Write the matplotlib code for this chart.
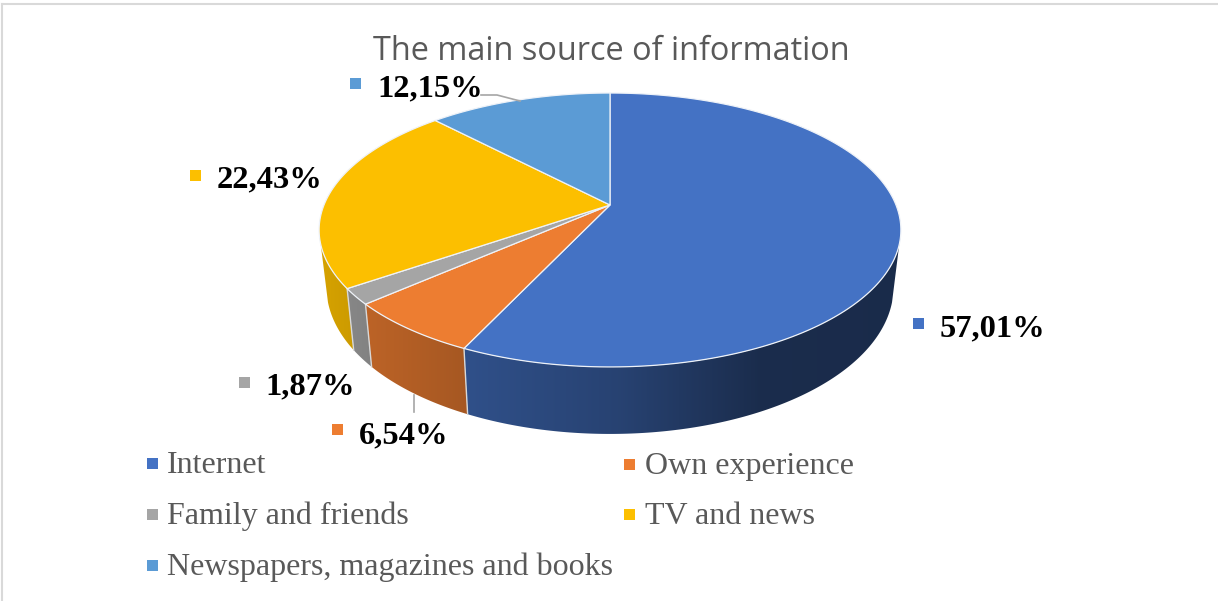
import numpy as np
import matplotlib
matplotlib.use("Agg")
import matplotlib.pyplot as plt
from matplotlib.patches import Polygon

# ---------------- DATA ----------------

categories = ["Internet", "Own experience", "Family and friends", "TV and news",
              "Newspapers, magazines and books"]
shares = [57.01, 6.54, 1.87, 22.43, 12.15]
colors = ["#4472C4", "#ED7D31", "#A5A5A5", "#FCBF00", "#5B9BD5"]

# ---------------- LAYOUT (pixels) ----------------

title = "The main source of information"
label_text_xy = [(940, 336), (359, 443), (265, 394), (217, 187), (377, 96)]
label_marker_xy = [(918, 323), (337, 429), (244, 382), (195, 175), (355, 83)]
legend_marker_xy = [(152, 463), (629, 464), (152, 514), (629, 514), (152, 565)]
legend_text_x = [167, 645, 167, 645, 167]
legend_text_y = [473, 474, 524, 524, 575]

# perspective of the pie
cx, cy = 610, 205
A, B, K = 286, 132.4, 0.1824


def top_point(deg):
    t = np.radians(deg)
    u, v = np.sin(t), np.cos(t)
    d = 1 + K * v
    return cx + A * u / d, cy - B * v / d


def bottom_point(deg):
    x, y = top_point(deg)
    v = np.cos(np.radians(deg))
    return cx + 0.975 * (x - cx), y + 54.3 - 12.7 * v


def side_shade(x):
    return np.interp(x, [320, 370, 467, 620, 760, 900],
                     [0.85, 0.79, 0.70, 0.58, 0.39, 0.38])


fig = plt.figure(figsize=(12.18, 6.01), dpi=100)
ax = fig.add_axes([0, 0, 1, 1])
ax.axis("off")

# frame of the picture
ax.plot([1.5, 1.5], [4, 601], color="#D9D9D9", lw=1.5)
ax.plot([1.5, 1218], [4, 4], color="#D9D9D9", lw=1.5)

edges = np.concatenate([[0], np.cumsum(shares)]) / sum(shares) * 360

# ---------------- SIDE WALL ----------------

# gradient image per slice, clipped to the wall outline
xs = np.arange(300, 920)
for i, col in enumerate(colors):
    a = np.linspace(edges[i], edges[i + 1], 300)
    a = a[np.cos(np.radians(a)) < -0.28]
    if len(a) == 0:
        continue
    outline = [top_point(d) for d in a] + [bottom_point(d) for d in a[::-1]]
    rgb = np.array(matplotlib.colors.to_rgb(col))
    grad = np.outer(side_shade(xs), rgb)[np.newaxis, :, :]
    im = ax.imshow(grad, extent=(300, 920, 450, 200), aspect="auto", zorder=2,
                   interpolation="bilinear")
    wall = Polygon(outline, closed=True, transform=ax.transData, facecolor="none",
                   edgecolor="none")
    ax.add_patch(wall)
    im.set_clip_path(wall)

# seams on the wall
for deg in edges[1:4]:
    p, q = top_point(deg), bottom_point(deg)
    ax.plot([p[0], q[0]], [p[1], q[1]], color="#D8D8D8", lw=1.0, zorder=3)

# ---------------- TOP FACE ----------------

for i, col in enumerate(colors):
    a = np.linspace(edges[i], edges[i + 1], 200)
    pts = [(cx, cy)] + [top_point(d) for d in a]
    ax.add_patch(Polygon(pts, closed=True, facecolor=col, edgecolor="#EEF2F8",
                         lw=0.9, zorder=4))

# ---------------- LEADER LINES ----------------

ax.plot([481, 497, 520], [95, 95, 101], color="#A6A6A6", lw=1.2, zorder=5)
ax.plot([414, 414], [395, 412], color="#A6A6A6", lw=1.2, zorder=1)

# ---------------- LABELS ----------------

for val, col, (tx, ty), (mx, my) in zip(shares, colors, label_text_xy, label_marker_xy):
    txt = f"{val:.2f}%".replace(".", ",")
    ax.text(tx, ty, txt, fontfamily="Liberation Serif", fontweight="bold",
            fontsize=23.4, color="black", ha="left", va="baseline", zorder=6)
    ax.add_patch(plt.Rectangle((mx - 5.5, my - 5.5), 11, 11, facecolor=col,
                               edgecolor="none", zorder=6))

ax.text(611, 60, title, fontfamily="Open Sans", fontsize=23.4, color="#595959",
        ha="center", va="baseline")

# ---------------- LEGEND ----------------

for name, col, (mx, my), tx, ty in zip(categories, colors, legend_marker_xy,
                                       legend_text_x, legend_text_y):
    ax.add_patch(plt.Rectangle((mx - 5.5, my - 5.5), 11, 11, facecolor=col,
                               edgecolor="none"))
    ax.text(tx, ty, name, fontfamily="Liberation Serif", fontsize=23, color="#595959",
            ha="left", va="baseline")

ax.set_xlim(0, 1218)
ax.set_ylim(601, 0)

fig.savefig("out.png", dpi=100)
